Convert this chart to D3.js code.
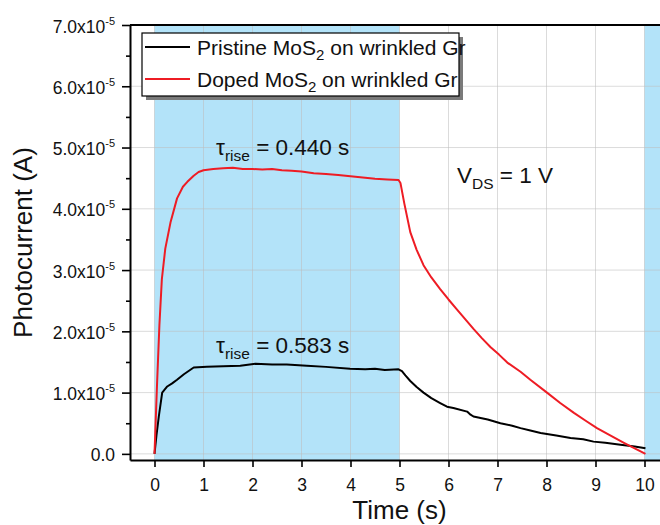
<!DOCTYPE html>
<html><head><meta charset="utf-8">
<script src="https://cdn.jsdelivr.net/npm/d3@7"></script>
<style>
body{margin:0;background:#fff}
svg{display:block;font-family:Arial,"Liberation Sans",Helvetica,sans-serif}
</style>
</head><body>
<svg id="chart" width="660" height="525"></svg>
<script>
// ---- data (current in units of 1e-5 A, time in s) ----
const pristineTime = [0, 0.04, 0.088, 0.157, 0.26, 0.36, 0.46, 0.6, 0.8, 1.07, 1.4, 1.75, 2.06, 2.4, 2.7, 3.11, 3.5, 3.99, 4.3, 4.5, 4.7, 4.98, 5.05, 5.12, 5.22, 5.35, 5.49, 5.65, 5.83, 5.97, 6.1, 6.38, 6.45, 6.51, 6.8, 7.06, 7.3, 7.47, 7.67, 7.88, 8.2, 8.49, 8.75, 8.96, 9.2, 9.51, 9.8, 10.02];
const pristineCurrent = [0, 0.3, 0.61, 1.0, 1.1, 1.15, 1.21, 1.3, 1.41, 1.42, 1.43, 1.44, 1.47, 1.46, 1.46, 1.44, 1.42, 1.39, 1.38, 1.39, 1.37, 1.38, 1.35, 1.28, 1.19, 1.09, 1.0, 0.91, 0.83, 0.77, 0.75, 0.69, 0.64, 0.61, 0.56, 0.5, 0.46, 0.42, 0.38, 0.34, 0.3, 0.26, 0.24, 0.2, 0.18, 0.15, 0.12, 0.09];
const dopedTime = [0, 0.05, 0.1, 0.15, 0.22, 0.33, 0.46, 0.58, 0.67, 0.8, 0.9, 1.0, 1.2, 1.4, 1.6, 1.8, 2.0, 2.2, 2.4, 2.6, 2.8, 3.0, 3.25, 3.5, 3.75, 4.0, 4.25, 4.5, 4.75, 4.98, 5.02, 5.1, 5.22, 5.35, 5.49, 5.65, 5.83, 6.0, 6.17, 6.34, 6.51, 6.68, 6.86, 7.03, 7.2, 7.47, 7.67, 8.01, 8.28, 8.56, 8.8, 9.03, 9.3, 9.58, 9.8, 10.02];
const dopedCurrent = [0, 1.1, 2.1, 2.85, 3.35, 3.79, 4.17, 4.36, 4.44, 4.54, 4.6, 4.63, 4.65, 4.66, 4.67, 4.65, 4.65, 4.64, 4.65, 4.63, 4.62, 4.61, 4.58, 4.57, 4.55, 4.53, 4.51, 4.49, 4.48, 4.47, 4.42, 4.08, 3.62, 3.33, 3.08, 2.88, 2.69, 2.52, 2.36, 2.2, 2.04, 1.89, 1.74, 1.62, 1.49, 1.34, 1.21, 1.0, 0.83, 0.67, 0.54, 0.42, 0.3, 0.18, 0.09, 0.0];

const xTickValues = [0, 1, 2, 3, 4, 5, 6, 7, 8, 9, 10];
const yTickValues = [0, 1, 2, 3, 4, 5, 6, 7];
const yMinorTickValues = [0.5, 1.5, 2.5, 3.5, 4.5, 5.5, 6.5];
const yTickMantissa = ["0.0", "1.0", "2.0", "3.0", "4.0", "5.0", "6.0", "7.0"];
const yTickExponent = "-5";
const lightOnIntervals = [[0, 5], [10, 11]];
const legendLabels = [["Pristine MoS", "2", " on wrinkled Gr"], ["Doped MoS", "2", " on wrinkled Gr"]];
const seriesColors = ["#000000", "#ee1c24"];
const xTitle = "Time (s)";
const yTitle = "Photocurrent (A)";

// ---- chart ----
const svg = d3.select("#chart");
const pLeft = 130, pRight = 669, pTop = 25, pBottom = 460;
const x = d3.scaleLinear().domain([-0.5, 10.5]).range([pLeft, pRight]);
const y = d3.scaleLinear().domain([-0.1, 7]).range([pBottom, pTop]);

const defs = svg.append("defs");
defs.append("clipPath").attr("id", "plotclip").append("rect")
  .attr("x", pLeft).attr("y", pTop).attr("width", pRight - pLeft).attr("height", pBottom - pTop);

const plot = svg.append("g").attr("clip-path", "url(#plotclip)");

// light-on bands
plot.selectAll("rect.band").data(lightOnIntervals).join("rect")
  .attr("class", "band")
  .attr("x", d => x(d[0])).attr("width", d => x(d[1]) - x(d[0]))
  .attr("y", pTop).attr("height", pBottom - pTop)
  .attr("fill", "#b3e3f9");

// grid
plot.selectAll("line.vg").data(xTickValues).join("line")
  .attr("x1", d => x(d)).attr("x2", d => x(d)).attr("y1", pTop).attr("y2", pBottom)
  .attr("stroke", "#bdbdbd").attr("stroke-opacity", 0.55).attr("stroke-width", 1);
plot.selectAll("line.hg").data(yTickValues).join("line")
  .attr("y1", d => y(d)).attr("y2", d => y(d)).attr("x1", pLeft).attr("x2", pRight)
  .attr("stroke", "#bdbdbd").attr("stroke-opacity", 0.55).attr("stroke-width", 1);

// curves
const line = d3.line().x(d => x(d[0])).y(d => y(d[1]));
const pristine = pristineTime.map((t, i) => [t, pristineCurrent[i]]);
const doped = dopedTime.map((t, i) => [t, dopedCurrent[i]]);
plot.append("path").datum(pristine).attr("d", line)
  .attr("fill", "none").attr("stroke", seriesColors[0]).attr("stroke-width", 2).attr("stroke-linejoin", "round");
plot.append("path").datum(doped).attr("d", line)
  .attr("fill", "none").attr("stroke", seriesColors[1]).attr("stroke-width", 2).attr("stroke-linejoin", "round");

// axes
const xAxis = svg.append("g").attr("transform", `translate(0,${pBottom})`)
  .call(d3.axisBottom(x).tickValues(xTickValues).tickSize(7).tickSizeOuter(0).tickPadding(12).tickFormat(d3.format("d")));
xAxis.select(".domain").attr("stroke-width", 2);
xAxis.selectAll(".tick line").attr("stroke-width", 1.6);
xAxis.selectAll(".tick text").attr("font-size", 17.5).attr("font-family", "Arial, 'Liberation Sans', sans-serif").attr("fill", "#111");

const yAxis = svg.append("g").attr("transform", `translate(${pLeft},0)`)
  .call(d3.axisLeft(y).tickValues(yTickValues).tickSize(8).tickSizeOuter(0).tickFormat(""));
yAxis.select(".domain").attr("stroke-width", 2);
yAxis.selectAll(".tick line").attr("stroke-width", 1.6);
const yMinor = svg.append("g").attr("transform", `translate(${pLeft},0)`)
  .call(d3.axisLeft(y).tickValues(yMinorTickValues).tickSize(4).tickFormat(""));
yMinor.select(".domain").remove();
yMinor.selectAll(".tick line").attr("stroke-width", 1.6);

// top frame
svg.append("line").attr("x1", pLeft).attr("x2", pRight).attr("y1", pTop).attr("y2", pTop)
  .attr("stroke", "#000").attr("stroke-width", 2);

// y tick labels with exponent
yTickValues.forEach((v, i) => {
  const t = svg.append("text").attr("x", 115).attr("y", y(v) + 7.5)
    .attr("text-anchor", "end").attr("font-size", 17.5).attr("fill", "#111");
  if (v === 0) { t.text(yTickMantissa[i]); }
  else {
    t.append("tspan").text(yTickMantissa[i] + "x10");
    t.append("tspan").attr("font-size", 11).attr("dy", -8).text(yTickExponent);
  }
});

// axis titles
svg.append("text").attr("x", (pLeft + pRight) / 2).attr("y", 519).attr("text-anchor", "middle")
  .attr("font-size", 26).attr("fill", "#111").text(xTitle);
svg.append("text").attr("transform", `translate(32,${(pTop + pBottom) / 2}) rotate(-90)`)
  .attr("text-anchor", "middle").attr("font-size", 26).attr("fill", "#111").text(yTitle);

// legend
const lg = svg.append("g");
lg.append("rect").attr("x", 146).attr("y", 37).attr("width", 317).attr("height", 63).attr("fill", "#7a7a7a");
lg.append("rect").attr("x", 142).attr("y", 33).attr("width", 317).attr("height", 63)
  .attr("fill", "#fff").attr("stroke", "#000").attr("stroke-width", 1.2);
legendLabels.forEach((parts, i) => {
  const cy = 47 + i * 32;
  lg.append("line").attr("x1", 145).attr("x2", 190).attr("y1", cy).attr("y2", cy)
    .attr("stroke", seriesColors[i]).attr("stroke-width", 2);
  const t = lg.append("text").attr("x", 197).attr("y", cy + 7.5).attr("font-size", 21).attr("fill", "#111");
  t.append("tspan").text(parts[0]);
  t.append("tspan").attr("font-size", 15).attr("dy", 5).text(parts[1]);
  t.append("tspan").attr("dy", -5).text(parts[2]);
});

// annotations
function subText(x0, y0, main, sub, rest) {
  const t = svg.append("text").attr("x", x0).attr("y", y0).attr("font-size", 22.5).attr("fill", "#111");
  t.append("tspan").text(main);
  t.append("tspan").attr("font-size", 15.5).attr("dy", 6).text(sub);
  t.append("tspan").attr("dy", -6).text(rest);
}
subText(216, 155, "\u03C4", "rise", " = 0.440 s");
subText(216, 353, "\u03C4", "rise", " = 0.583 s");
subText(457, 183, "V", "DS", " = 1 V");
</script>
</body></html>
